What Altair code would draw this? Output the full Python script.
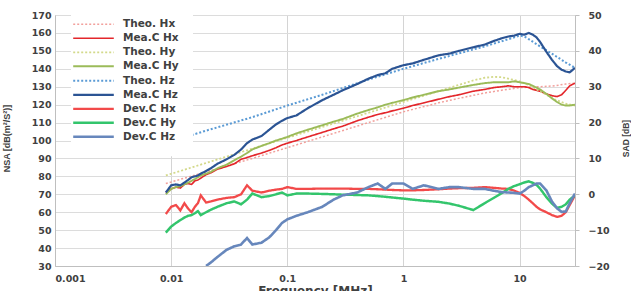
import altair as alt
import pandas as pd

# ---------------- data ----------------
freq = [0.009, 0.01, 0.011, 0.012, 0.013, 0.014, 0.015, 0.016, 0.017, 0.018,
        0.02, 0.022, 0.025, 0.03, 0.035, 0.04, 0.045, 0.05, 0.06, 0.07,
        0.08, 0.09, 0.1, 0.12, 0.15, 0.2, 0.25, 0.3, 0.4, 0.5,
        0.6, 0.7, 0.8, 1, 1.2, 1.5, 2, 2.5, 3, 4,
        5, 6, 7, 8, 9, 10, 11, 12, 13, 14,
        15, 17, 19, 21, 23, 25, 27, 30]

mea_hz = [71, 75, 75.5, 75, 76.5, 78, 79.5, 80, 80.5, 81.5,
          83, 84.5, 87, 89.5, 92, 95, 98.5, 100.5, 102.5, 106,
          109, 111, 112.5, 114, 118, 122.5, 125.5, 128, 131.5, 134.5,
          136.5, 137.5, 140, 142, 143, 145, 147.5, 148.5, 150, 152,
          153.5, 155.5, 157, 158, 158.5, 159.5, 159, 160, 159, 157.5,
          155, 149.5, 145, 141.5, 139.5, 138.5, 138, 140.5]

mea_hy = [70, 73, 74, 74.5, 75.5, 76.5, 77.5, 78.5, 79.5, 80.5,
          81.5, 82.5, 84.5, 86.5, 89, 91, 93, 95, 97, 98.5,
          100, 101, 102, 104, 106, 108.5, 110.5, 112, 115, 117,
          118.5, 120, 121, 122.5, 124, 125.5, 127.5, 128.5, 129.5, 131,
          132, 132.5, 132.5, 132.5, 133, 132.5, 132, 131.5, 130.5, 129.5,
          128.5, 126, 123.5, 121.5, 120, 119.5, 119.5, 120]

mea_hx = [71, 73, 74, 73.5, 75.5, 76, 75.5, 77.5, 78, 79,
          81, 82, 84, 85.5, 87, 89.5, 90.5, 91.5, 93, 94.5,
          96, 97.5, 98.5, 100, 102, 104.5, 106.5, 108, 111, 113,
          114.5, 115.5, 116.5, 118, 119.5, 121, 123, 124.5, 125.5, 127.5,
          128.5, 129.5, 130, 130.5, 130, 130, 130, 129.5, 128.5, 128,
          127.5, 126, 125, 124.5, 125.5, 128, 130.5, 132]

dev_hx = [-5.5, -3.5, -3, -4.5, -2.5, -4, -5, -3.5, -2.5, -0.3,
          -2.3, -2, -1.5, -1, -0.8, 0, 2.5, 1, 0.5, 1,
          1.3, 1.5, 2, 1.5, 1.5, 1.6, 1.6, 1.6, 1.5, 1.5,
          1.4, 1.3, 1.2, 1.1, 1.1, 1.2, 1.4, 1.6, 1.7, 1.8,
          2, 1.8, 1.6, 1.5, 1, 0.4, -0.5, -1.5, -2.5, -3.5,
          -4.2, -5, -5.8, -6.3, -6, -5, -3, -0.3]

dev_hy = [-10.7, -9, -8, -7.2, -6.5, -6, -5.8, -5.3, -4.7, -5.8,
          -5, -4.3, -3.5, -2.5, -2, -2.8, -1.5, 0.2, -0.8, -0.5,
          0, 0.5, -0.3, 0.2, 0.2, 0.1, 0, -0.1, -0.2, -0.3,
          -0.5, -0.7, -0.9, -1.2, -1.5, -1.8, -2.1, -2.6, -3.2, -4.4,
          -2.5, -1, 0.3, 1.5, 2.3, 2.8, 3.3, 3.6, 3.2, 2.6,
          1.6, -0.8, -2.6, -3.8, -3.5, -2.8, -1.5, -0.3]

dev_hz = [None, None, None, None, None, None, None, None, None, None,
          -20, -19, -17.5, -15.5, -14.5, -14, -12.2, -14, -13.5, -12,
          -10, -8, -7, -6, -5, -3.5, -1.5, -0.3, 0.5, 2,
          3, 1.5, 3, 3, 1.5, 2.5, 1.5, 2, 2, 1.5,
          1.5, 1, 0.6, 0.5, 0.4, 0.2, 1, 2, 2.5, 3,
          3, 1.1, -2, -3.9, -4.9, -4.8, -2.5, 0.2]

theo_hz_f = [0.015, 0.02, 0.05, 0.1, 0.2, 0.5, 1, 2, 5, 8, 10, 11, 12, 15, 20, 25, 30]
theo_hz = [103, 105.5, 113, 119.5, 125.5, 134, 140, 145.5, 152.5, 156.5, 158.5, 158, 156.5, 152.5, 147.5, 143.5, 140.5]

theo_hy_f = [0.009, 0.1, 1, 2, 3, 4, 5, 6, 7, 8, 10, 12, 15, 20, 25, 30]
theo_hy = [80.5, 101.5, 121.5, 127.5, 131, 133.5, 135, 135.5, 135.3, 134.5, 133, 131, 127.5, 123, 120.5, 119.5]

theo_hx_f = [0.009, 0.02, 0.05, 0.1, 0.2, 0.5, 1, 2, 3, 5, 7, 10, 15, 20, 25, 30]
theo_hx = [76, 82.5, 90, 96, 102, 110, 116, 121, 123.5, 126.5, 128, 129.5, 130, 130.5, 131.5, 132]

series_order = ["Theo. Hx", "Mea.C Hx", "Theo. Hy", "Mea.C Hy", "Theo. Hz",
                "Mea.C Hz", "Dev.C Hx", "Dev.C Hy", "Dev.C Hz"]
colors = ["#F2A09C", "#E3262B", "#D3D98A", "#9BBB59", "#5B9BD5",
          "#2B5494", "#F24A4A", "#33C56C", "#6787BC"]
dashes = [[2, 2], [1, 0], [2, 2], [1, 0], [2, 2], [1, 0], [1, 0], [1, 0], [1, 0]]
widths = [1.5, 2.6, 1.5, 2.6, 1.5, 2.6, 1.7, 1.7, 1.7]

x_ticks = [0.001, 0.01, 0.1, 1, 10]

# ---------------- tables ----------------
def frame(fs, vs, name):
    return pd.DataFrame({"f": fs, "v": vs, "series": name})

nsa = pd.concat([
    frame(theo_hx_f, theo_hx, "Theo. Hx"),
    frame(freq, mea_hx, "Mea.C Hx"),
    frame(theo_hy_f, theo_hy, "Theo. Hy"),
    frame(freq, mea_hy, "Mea.C Hy"),
    frame(theo_hz_f, theo_hz, "Theo. Hz"),
    frame(freq, mea_hz, "Mea.C Hz"),
], ignore_index=True)

dev = pd.concat([
    frame(freq, dev_hx, "Dev.C Hx"),
    frame(freq, dev_hy, "Dev.C Hy"),
    frame(freq, dev_hz, "Dev.C Hz"),
], ignore_index=True).dropna()

FONT = "DejaVu Sans"
TFONT = "Liberation Sans"
LABEL = "#404040"

legend = alt.Legend(
    title=None, orient="none", legendX=16, legendY=-12.7,
    fillColor="white", padding=14, symbolType="M-2.9,0H2.9", symbolSize=196,
    labelFont=FONT, labelFontWeight="bold", labelFontSize=10.5,
    labelColor=LABEL, labelOffset=21, rowPadding=0,
)

x_enc = alt.X(
    "f:Q",
    scale=alt.Scale(type="log", domain=[0.001, 30], nice=False),
    axis=alt.Axis(
        values=x_ticks, labelExpr="toString(datum.value)",
        title="Frequency [MHz]", titleFont=FONT, titleFontSize=12,
        titleFontWeight="bold", titleColor=LABEL, titleY=19, titleBaseline="top",
        labelFont=FONT, labelFontWeight="bold", labelFontSize=9.5, labelColor=LABEL,
        labelPadding=7, ticks=False, domainColor="#BFBFBF",
        grid=True, gridColor="#D4D4D4",
    ),
)

color = alt.Color("series:N", scale=alt.Scale(domain=series_order, range=colors), legend=legend)
dash = alt.StrokeDash("series:N", scale=alt.Scale(domain=series_order, range=dashes), legend=legend)
width = alt.StrokeWidth("series:N", scale=alt.Scale(domain=series_order, range=widths), legend=legend)

left = alt.Chart(nsa).mark_line(clip=True).encode(
    x=x_enc,
    y=alt.Y(
        "v:Q",
        scale=alt.Scale(domain=[30, 170], nice=False, zero=False),
        axis=alt.Axis(
            values=list(range(30, 171, 10)), title="NSA [dB(m²/S²)]",
            titleFont=TFONT, titleFontSize=9, titleFontWeight="bold", titleColor=LABEL,
            titleX=-49, titleY=123, titleAngle=270, titleBaseline="middle", titleAlign="center",
            labelFont=FONT, labelFontWeight="bold", labelFontSize=9.5, labelColor=LABEL,
            labelPadding=4, ticks=False, domainColor="#BFBFBF",
            grid=True, gridColor="#DCDCDC",
        ),
    ),
    color=color, strokeDash=dash, strokeWidth=width,
)

right = alt.Chart(dev).mark_line(clip=True).encode(
    x=x_enc,
    y=alt.Y(
        "v:Q",
        scale=alt.Scale(domain=[-20, 50], nice=False, zero=False),
        axis=alt.Axis(
            orient="right", values=list(range(-20, 51, 10)), title="SAD [dB]",
            titleFont=TFONT, titleFontSize=8.5, titleFontWeight="bold", titleColor=LABEL,
            titleX=50, titleY=123, titleAngle=270, titleBaseline="middle", titleAlign="center",
            labelFont=FONT, labelFontWeight="bold", labelFontSize=9.5, labelColor=LABEL,
            labelPadding=9, ticks=True, tickSize=4, tickColor="#BFBFBF",
            domainColor="#BFBFBF", grid=False,
        ),
    ),
    color=color, strokeDash=dash, strokeWidth=width,
)

chart = alt.layer(right, left).resolve_scale(y="independent").properties(
    width=520, height=251,
    autosize=alt.AutoSizeParams(type="none"),
    padding={"left": 55, "top": 15, "right": 56, "bottom": 25},
    title=alt.Title("10m NSA at SAC", font=FONT, fontSize=16, fontWeight="bold",
                    color="#262626", anchor="middle", baseline="alphabetic", offset=6),
).configure_view(stroke=None).configure(background="white")

chart.save("out.html", embed_options={"renderer": "svg", "actions": False})
